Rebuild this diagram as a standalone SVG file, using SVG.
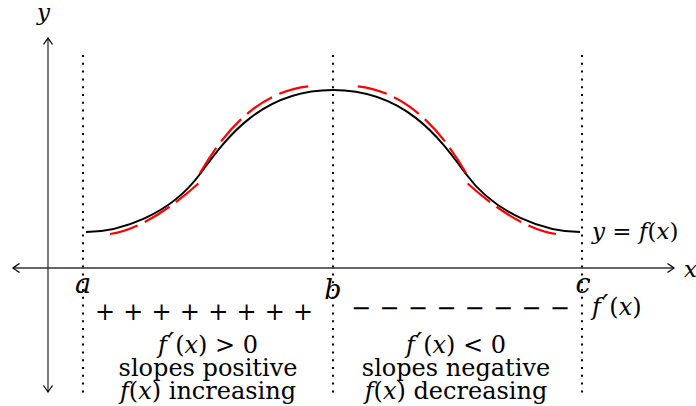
<svg xmlns="http://www.w3.org/2000/svg" width="696" height="406" viewBox="0 0 696 406">
<style>
text{font-family:"DejaVu Serif","Liberation Serif",serif;fill:#000}
.m{font-style:italic}
.lbl{font-size:23px}
.pt{font-size:27px;font-style:italic;text-anchor:middle}
.body{font-size:24px;text-anchor:middle}
.pr{font-size:28px;font-style:italic}
.axis{stroke:#333;stroke-width:1.3;fill:none}
.dot{stroke:#000;stroke-width:2;stroke-dasharray:2 5.8;fill:none}
.curve{stroke:#000;stroke-width:2;fill:none}
.red{stroke:#f00;stroke-width:2.2;fill:none}
</style>
<defs>
<marker id="arr" markerUnits="userSpaceOnUse" markerWidth="14" markerHeight="12" refX="0" refY="0" viewBox="-8 -6 10 12" orient="auto-start-reverse">
<path d="M-6.5,-4.5 Q-1.5,-1 0,0 Q-1.5,1 -6.5,4.5" stroke="#000" stroke-width="1.3" fill="none"/>
</marker>
</defs>
<g id="axes">
<line class="axis" x1="13" y1="268" x2="674" y2="268" marker-start="url(#arr)" marker-end="url(#arr)"/>
<line class="axis" x1="48" y1="392" x2="48" y2="38" marker-start="url(#arr)" marker-end="url(#arr)"/>
<text class="lbl m" x="684" y="277">x</text>
<text class="lbl m" x="37" y="20">y</text>
</g>
<g id="guides">
<line class="dot" x1="83" y1="55" x2="83" y2="396"/>
<line class="dot" x1="333" y1="55" x2="333" y2="396"/>
<line class="dot" x1="582" y1="55" x2="582" y2="396"/>
</g>
<g id="curve">
<path class="curve" d="M86,232 C120,232 170,215 200,174 C225,140 260,90 333,90 C406,90 441,140 466,174 C496,215 546,232 580,232"/>
</g>
<g id="tangent">
<path class="red" stroke-dasharray="29 8" d="M110,234 C140,230 175,205 200,182"/>
<path class="red" stroke-dasharray="30 8" d="M200,173 C225,130 260,90 312,86"/>
<path class="red" stroke-dasharray="29 8" d="M556,234 C526,230 491,205 466,182"/>
<path class="red" stroke-dasharray="30 8" d="M466,173 C441,130 406,90 354,86"/>
</g>
<g id="points">
<text class="pt" x="83" y="293">a</text>
<text class="pt" x="333" y="299">b</text>
<text class="pt" x="583" y="293">c</text>
</g>
<g id="curve-label">
<text class="lbl" x="592" y="239"><tspan class="m">y</tspan> = <tspan class="m">f</tspan>(<tspan class="m">x</tspan>)</text>
<text style="font-size:24px" x="592" y="315"><tspan class="m">f</tspan><tspan class="pr" dx="1">′</tspan><tspan dx="1">(</tspan><tspan class="m">x</tspan>)</text>
</g>
<g id="signs">
<text style="font-size:24px" text-anchor="middle" x="105 133.3 161.6 189.9 218.2 246.5 274.8 303.1" y="320">++++++++</text>
<text style="font-size:24px" text-anchor="middle" x="361 389.4 417.8 446.2 474.6 503 531.4 559.8" y="316">−−−−−−−−</text>
</g>
<g id="left-region">
<text class="body" x="208" y="353"><tspan class="m">f</tspan><tspan class="pr" dx="1">′</tspan><tspan dx="1">(</tspan><tspan class="m">x</tspan>) &gt; 0</text>
<text class="body" x="208" y="376">slopes positive</text>
<text class="body" x="208" y="399"><tspan class="m">f</tspan>(<tspan class="m">x</tspan>) increasing</text>
</g>
<g id="right-region">
<text class="body" x="456" y="353"><tspan class="m">f</tspan><tspan class="pr" dx="1">′</tspan><tspan dx="1">(</tspan><tspan class="m">x</tspan>) &lt; 0</text>
<text class="body" x="456" y="376">slopes negative</text>
<text class="body" x="456" y="399"><tspan class="m">f</tspan>(<tspan class="m">x</tspan>) decreasing</text>
</g>
</svg>
